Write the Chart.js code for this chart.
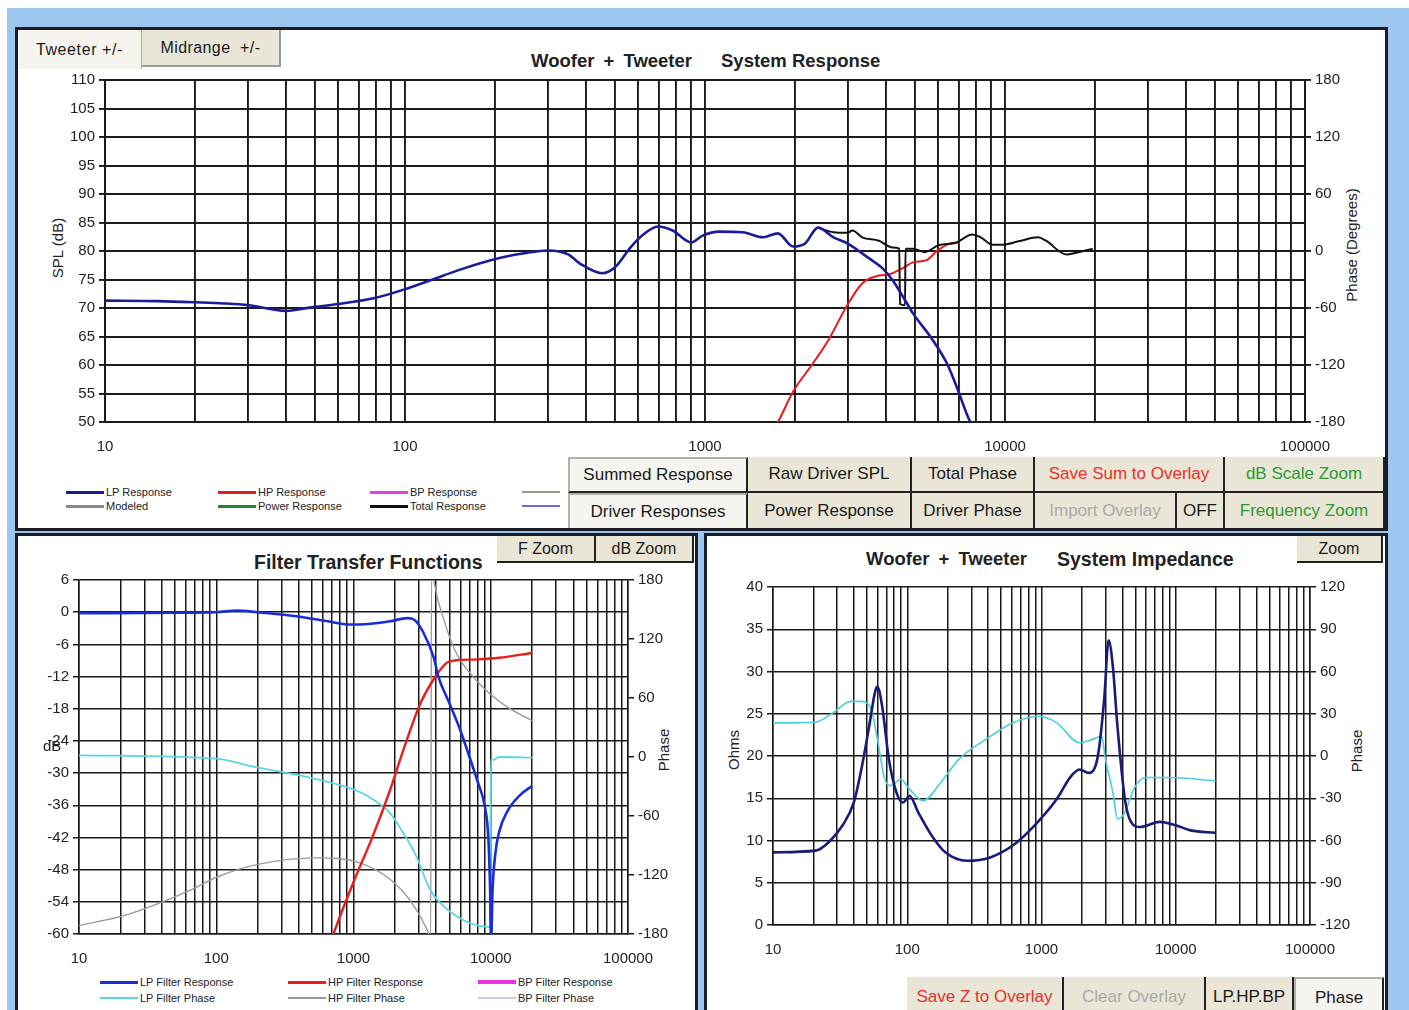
<!DOCTYPE html>
<html>
<head>
<meta charset="utf-8">
<script src="https://cdn.jsdelivr.net/npm/chart.js@4.4.1/dist/chart.umd.min.js"></script>
<style>
body{margin:0;width:1409px;height:1010px;overflow:hidden;background:#fff;position:relative;font-family:"Liberation Sans",Arial,sans-serif;color:#222}
.bg{position:absolute;left:7px;top:8px;width:1402px;height:1002px;background:#9cc5ef}
.panel{position:absolute;background:#fff;border:3px solid #1b1b26;box-sizing:border-box}
.btn{position:absolute;box-sizing:border-box;background:#e9e6d7;border-right:2px solid #222;border-bottom:2px solid #222;display:flex;align-items:center;justify-content:center;font-size:17px;color:#1a1a1a;white-space:nowrap}
.btn.on{background:#f5f4ef;border-top:2px solid #b0b0a8;border-left:2px solid #b0b0a8}
.title{position:absolute;font-weight:bold;font-size:18.5px;color:#222;white-space:pre;line-height:22px}
.rot{position:absolute;transform:translate(-50%,-50%) rotate(-90deg);white-space:nowrap;font-size:15px;color:#222}
.leg{position:absolute;font-size:11px;color:#222;white-space:nowrap;display:flex;align-items:center;height:12px}
.leg i{display:inline-block;width:38px;height:3px;margin-right:2px}
canvas{position:absolute}
</style>
</head>
<body>
<div class="bg"></div>
<div class="panel" style="left:15px;top:27px;width:1373px;height:504px"></div>
<div class="panel" style="left:15px;top:533px;width:683px;height:490px"></div>
<div class="panel" style="left:704px;top:533px;width:684px;height:490px"></div>

<!-- top panel -->
<div class="btn on" style="left:18px;top:30px;width:124px;height:39px;border:none;border-right:1px solid #aaa;font-size:16px;letter-spacing:0.6px">Tweeter +/-</div>
<div class="btn" style="left:142px;top:30px;width:139px;height:37px;border-right:2px solid #999;border-bottom:2px solid #999;font-size:16px;letter-spacing:0.4px">Midrange&nbsp;&nbsp;+/-</div>
<div class="title" style="left:531px;top:50px;word-spacing:4px">Woofer + Tweeter</div>
<div class="title" style="left:721px;top:50px">System Response</div>
<div class="rot" style="left:57px;top:248px">SPL (dB)</div>
<div class="rot" style="left:1351px;top:245px">Phase (Degrees)</div>
<canvas id="sysChart" width="1365" height="393" style="left:20px;top:67px"></canvas>

<div class="leg" style="left:66px;top:486px"><i style="background:#1c1c98"></i>LP Response</div>
<div class="leg" style="left:66px;top:500px"><i style="background:#8a8a8a"></i>Modeled</div>
<div class="leg" style="left:218px;top:486px"><i style="background:#e02020"></i>HP Response</div>
<div class="leg" style="left:218px;top:500px"><i style="background:#1c8a2c"></i>Power Response</div>
<div class="leg" style="left:370px;top:486px"><i style="background:#e040e0"></i>BP Response</div>
<div class="leg" style="left:370px;top:500px"><i style="background:#111"></i>Total Response</div>
<div class="leg" style="left:522px;top:486px"><i style="background:#9c9c84;height:2px"></i></div>
<div class="leg" style="left:522px;top:500px"><i style="background:#6c6cd8;height:2px"></i></div>

<div class="btn on" style="left:568px;top:457px;width:180px;height:36px">Summed Response</div>
<div class="btn" style="left:748px;top:457px;width:164px;height:36px">Raw Driver SPL</div>
<div class="btn" style="left:912px;top:457px;width:123px;height:36px">Total Phase</div>
<div class="btn" style="left:1035px;top:457px;width:190px;height:36px;color:#e8302a">Save Sum to Overlay</div>
<div class="btn" style="left:1225px;top:457px;width:160px;height:36px;color:#2f9a2f">dB Scale Zoom</div>
<div class="btn on" style="left:568px;top:493px;width:180px;height:35px;border-bottom:none">Driver Responses</div>
<div class="btn" style="left:748px;top:493px;width:164px;height:35px;border-bottom:none">Power Response</div>
<div class="btn" style="left:912px;top:493px;width:123px;height:35px;border-bottom:none">Driver Phase</div>
<div class="btn" style="left:1035px;top:493px;width:142px;height:35px;border-bottom:none;color:#a9a9a9">Import Overlay</div>
<div class="btn" style="left:1177px;top:493px;width:48px;height:35px;border-bottom:none">OFF</div>
<div class="btn" style="left:1225px;top:493px;width:160px;height:35px;border-bottom:none;color:#2f9a2f">Frequency Zoom</div>

<!-- bottom left panel -->
<div class="btn" style="left:497px;top:536px;width:99px;height:27px;font-size:16px">F Zoom</div>
<div class="btn" style="left:596px;top:536px;width:98px;height:27px;font-size:16px">dB Zoom</div>
<div class="title" style="left:254px;top:551px;font-size:19.5px">Filter Transfer Functions</div>
<div class="rot" style="left:663px;top:750px">Phase</div>
<canvas id="filterChart" width="670" height="403" style="left:20px;top:567px"></canvas>
<div style="position:absolute;left:43px;top:737px;font-size:15px">dB</div>
<div class="leg" style="left:100px;top:976px"><i style="background:#1a2ed8"></i>LP Filter Response</div>
<div class="leg" style="left:100px;top:992px"><i style="background:#5cd6e2;height:2px"></i>LP Filter Phase</div>
<div class="leg" style="left:288px;top:976px"><i style="background:#ec1c1c"></i>HP Filter Response</div>
<div class="leg" style="left:288px;top:992px"><i style="background:#9a9a9a;height:2px"></i>HP Filter Phase</div>
<div class="leg" style="left:478px;top:976px"><i style="background:#e832e8;height:4px"></i>BP Filter Response</div>
<div class="leg" style="left:478px;top:992px"><i style="background:#c8c8ec;height:2px"></i>BP Filter Phase</div>

<!-- bottom right panel -->
<div class="btn" style="left:1297px;top:536px;width:86px;height:27px;font-size:16px">Zoom</div>
<div class="title" style="left:866px;top:548px;word-spacing:4px">Woofer + Tweeter</div>
<div class="title" style="left:1057px;top:548px;font-size:19.5px">System Impedance</div>
<div class="rot" style="left:733px;top:750px">Ohms</div>
<div class="rot" style="left:1356px;top:751px">Phase</div>
<canvas id="impChart" width="670" height="393" style="left:712px;top:574px"></canvas>
<div class="btn" style="left:907px;top:977px;width:157px;height:40px;border-bottom:none;color:#e8302a">Save Z to Overlay</div>
<div class="btn" style="left:1064px;top:977px;width:142px;height:40px;border-bottom:none;color:#a9a9a9">Clear Overlay</div>
<div class="btn" style="left:1206px;top:977px;width:88px;height:40px;border-bottom:none">LP.HP.BP</div>
<div class="btn on" style="left:1294px;top:977px;width:90px;height:40px;border-bottom:none">Phase</div>

<script>
// ---- axis labels ----
const decadeLabels = [10, 100, 1000, 10000, 100000];
const gridFreqs = [];
[10, 100, 1000, 10000].forEach(d => { for (let m = 1; m < 10; m++) gridFreqs.push(d * m); });
gridFreqs.push(100000);

// ---- System Response (SPL dB) ----
const lpRespFreq = [10, 15, 20, 25, 30, 40, 50, 60, 80, 100, 125, 150, 200, 250, 300, 350, 383, 454, 500, 564, 620, 697, 780, 900, 982, 1114, 1334, 1561, 1750, 1965, 2154, 2380, 2680, 2990, 3525, 3900, 4215, 4640, 4930, 5740, 6400, 6900, 7600, 7800];
const lpRespSpl = [71.3, 71.2, 71.0, 70.8, 70.5, 69.5, 70.2, 70.7, 71.8, 73.3, 75.1, 76.6, 78.6, 79.6, 80.1, 79.4, 77.8, 76.1, 77.1, 80.6, 82.8, 84.3, 83.6, 81.5, 82.7, 83.4, 83.3, 82.4, 83.1, 80.8, 81.3, 84.1, 82.4, 81.3, 78.7, 77.0, 74.9, 71.4, 69.1, 64.4, 60.3, 56.2, 50.4, 49.5];
const hpRespFreq = [1700, 1750, 1965, 2290, 2580, 2950, 3340, 3800, 4100, 4570, 4930, 5480, 5960, 6550, 7060];
const hpRespSpl = [49, 50, 55.3, 60.3, 64.4, 70.1, 74.3, 75.7, 75.9, 77.0, 78.0, 78.4, 80.1, 81.3, 81.5];
const totalFreq = [2380, 2680, 2990, 3100, 3340, 3800, 4215, 4440, 4467, 4642, 4660, 4930, 5400, 6000, 6900, 7770, 8300, 9100, 9800, 11100, 12900, 13700, 16000, 17000, 19600];
const totalSpl = [84.1, 83.3, 83.2, 83.6, 82.4, 81.8, 80.6, 80.4, 70.7, 70.5, 80.4, 80.4, 79.8, 81.0, 81.5, 82.9, 82.4, 81.1, 81.1, 81.7, 82.4, 81.8, 79.4, 79.6, 80.4];

// ---- Filter Transfer Functions ----
const lpFiltFreq = [10, 50, 100, 142, 198, 397, 616, 953, 1277, 1845, 2475, 2770, 3200, 3850, 4140, 5000, 6000, 7000, 8000, 9100, 9600, 9900, 10050, 10300, 10800, 11500, 13300, 16500, 20000];
const lpFiltDb = [-0.2, -0.1, 0, 0.3, 0, -0.8, -1.6, -2.3, -2.2, -1.7, -1.1, -1.4, -3.6, -8.5, -11.9, -17, -22, -27, -31.5, -36.5, -42, -52, -62, -52, -45, -41, -37, -34, -32.4];
const hpFiltFreq = [650, 714, 1019, 1380, 1845, 2300, 3060, 3980, 4800, 5500, 7900, 11500, 20000];
const hpFiltDb = [-63, -60, -49.8, -41.8, -33.2, -25.8, -17.1, -11.9, -9.4, -9.0, -8.8, -8.5, -7.6];
const lpPhaseFreq = [10, 100, 190, 397, 953, 1277, 1845, 2300, 2870, 3600, 4470, 5500, 7400, 9900, 10000, 10500, 11500, 20000];
const lpPhaseDeg = [1.7, -1.7, -10, -18.5, -32, -40, -57, -77, -101, -134.5, -151, -161, -170, -173, -3, -3, 0, -0.7];
const hpPhaseFreq = [10, 22.8, 59, 106, 205, 530, 1110, 1845, 2650, 3420, 3650, 3700, 4150, 5500, 7400, 9900, 13300, 20000];
const hpPhaseDeg = [-171.5, -160, -138, -121, -109, -102.6, -107.6, -124.4, -148, -175, -185, 185, 158, 108, 82, 64, 50.5, 37];

// ---- System Impedance ----
const impFreq = [10, 20.7, 26, 33, 40, 46, 52, 58, 60, 65, 73, 83, 93, 104, 121, 152, 192, 280, 415, 610, 890, 1300, 1640, 1920, 2240, 2630, 2930, 3160, 3400, 3680, 4180, 4640, 5400, 7600, 10000, 12900, 19800];
const impOhms = [8.6, 8.8, 9.8, 11.8, 14.5, 18.8, 23.5, 27.8, 28.2, 25.9, 19.6, 15.7, 14.5, 15.3, 13.3, 10.6, 8.6, 7.6, 8.0, 9.4, 11.8, 14.9, 17.5, 18.4, 18.0, 20.0, 26.7, 33.7, 30.6, 23.5, 14.9, 12.2, 11.6, 12.2, 11.8, 11.2, 10.9];
const impPhaseFreq = [10, 20.7, 28, 38, 45, 54, 60, 68, 76, 89, 104, 131, 178, 242, 384, 610, 960, 1300, 1920, 2400, 2800, 3000, 3400, 3680, 4180, 4860, 6000, 8900, 19800];
const impPhaseDeg = [23.5, 24, 30.6, 38.8, 38.8, 33, 11.8, -16.5, -21, -16.5, -23.5, -31.8, -18.8, -2.4, 11.8, 23.5, 28.2, 23.5, 9.4, 11.8, 14.1, -2.4, -25.9, -44.7, -40, -23.5, -15.3, -15.3, -17.6];

const pts = (xs, ys) => xs.map((x, i) => ({x: x, y: ys[i]}));
const tickFont = {family: 'Liberation Sans, Arial, sans-serif', size: 15};

function freqAxis(h, gridW) {
    return {
        type: 'logarithmic', position: 'bottom', min: 10, max: 100000,
        afterBuildTicks: a => { a.ticks = gridFreqs.map(v => ({value: v})); },
        afterFit: a => { a.height = h; },
        ticks: {autoSkip: false, maxRotation: 0, minRotation: 0, padding: 16, color: '#222', font: tickFont,
            callback: v => decadeLabels.includes(v) ? String(v) : ''},
        grid: {color: '#1a1a1a', lineWidth: gridW, drawTicks: false},
        border: {color: '#1a1a1a', width: gridW}
    };
}

function valAxis(pos, min, max, step, w, showGrid, gridW) {
    return {
        type: 'linear', position: pos, min: min, max: max,
        afterFit: a => { a.width = w; },
        ticks: {stepSize: step, padding: 4, color: '#222', font: tickFont},
        grid: {drawOnChartArea: showGrid, color: '#1a1a1a', lineWidth: gridW, tickLength: 6},
        border: {color: '#1a1a1a', width: gridW}
    };
}

function line(data, color, width, axis) {
    return {data: data, borderColor: color, borderWidth: width, yAxisID: axis,
        pointRadius: 0, fill: false, cubicInterpolationMode: 'monotone'};
}

function baseOptions(scales) {
    return {
        responsive: false, animation: false,
        layout: {padding: {top: 9, left: 0, right: 0, bottom: 0}},
        plugins: {legend: {display: false}, tooltip: {enabled: false}},
        scales: scales
    };
}

new Chart(document.getElementById('sysChart').getContext('2d'), {
    type: 'line',
    data: {datasets: [
        line(pts(lpRespFreq, lpRespSpl), '#1c1c98', 2.6, 'y'),
        line(pts(totalFreq, totalSpl), '#111111', 2, 'y'),
        line(pts(hpRespFreq, hpRespSpl), '#f01818', 2, 'y')
    ]},
    options: baseOptions({
        x: freqAxis(38, 1.9),
        y: valAxis('left', 50, 110, 5, 85, true, 1.9),
        y2: valAxis('right', -180, 180, 60, 80, false, 1.9)
    })
});

new Chart(document.getElementById('filterChart').getContext('2d'), {
    type: 'line',
    data: {datasets: [
        line(pts(lpFiltFreq, lpFiltDb), '#1a2ed8', 2.6, 'y'),
        line(pts(hpFiltFreq, hpFiltDb), '#ec1c1c', 2.4, 'y'),
        line(pts(lpPhaseFreq, lpPhaseDeg), '#5cd6e2', 1.8, 'y2'),
        line(pts(hpPhaseFreq, hpPhaseDeg), '#9a9a9a', 1.4, 'y2')
    ]},
    options: baseOptions({
        x: freqAxis(36, 1.5),
        y: valAxis('left', -60, 6, 6, 59, true, 1.5),
        y2: valAxis('right', -180, 180, 60, 62, false, 1.5)
    })
});

new Chart(document.getElementById('impChart').getContext('2d'), {
    type: 'line',
    data: {datasets: [
        line(pts(impFreq, impOhms), '#1a1a78', 2.6, 'y'),
        line(pts(impPhaseFreq, impPhaseDeg), '#4ccfdc', 1.6, 'y2')
    ]},
    options: baseOptions({
        x: freqAxis(42, 1.5),
        y: valAxis('left', 0, 40, 5, 61, true, 1.5),
        y2: valAxis('right', -120, 120, 30, 72, false, 1.5)
    })
});
</script>
</body>
</html>
